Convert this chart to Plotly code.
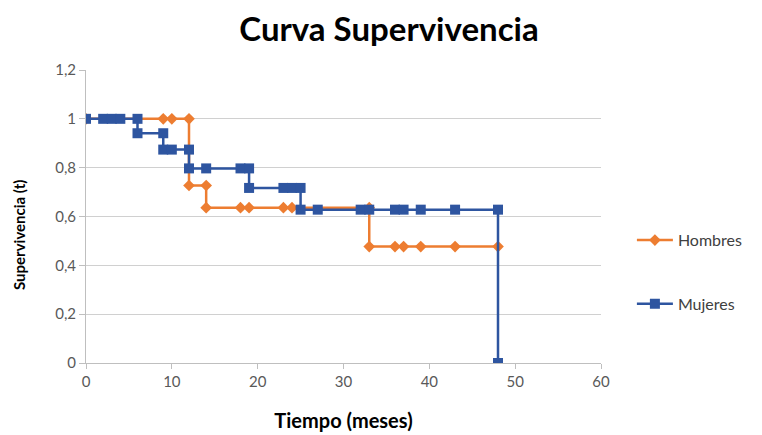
import plotly.graph_objects as go

hombres_t = [0, 9, 10, 12, 12, 14, 14, 18, 19, 23, 24, 33, 33, 36, 37, 39, 43, 48]
hombres_s = [1, 1, 1, 1, 0.727, 0.727, 0.636, 0.636, 0.636, 0.636, 0.636, 0.636,
             0.477, 0.477, 0.477, 0.477, 0.477, 0.477]

mujeres_t = [0, 2, 3, 4, 6, 6, 9, 9, 10, 12, 12, 14, 18, 19, 19, 23, 24, 25, 25, 27,
             32, 33, 36, 37, 39, 43, 48, 48]
mujeres_s = [1, 1, 1, 1, 1, 0.941, 0.941, 0.874, 0.874, 0.874, 0.797, 0.797, 0.797,
             0.797, 0.717, 0.717, 0.717, 0.717, 0.628, 0.628, 0.628, 0.628, 0.628,
             0.628, 0.628, 0.628, 0.628, 0]

x_ticks = [0, 10, 20, 30, 40, 50, 60]
y_ticks = [0, 0.2, 0.4, 0.6, 0.8, 1, 1.2]
y_labels = ["0", "0,2", "0,4", "0,6", "0,8", "1", "1,2"]

FONT = "Lato"
fig = go.Figure()
fig.add_trace(go.Scatter(
    x=hombres_t, y=hombres_s, name="Hombres", mode="lines+markers",
    line=dict(color="#ED7D31", width=2.5),
    marker=dict(symbol="diamond", size=9, color="#ED7D31"),
    legendgroup="h"))
fig.add_trace(go.Scatter(
    x=mujeres_t, y=mujeres_s, name="Mujeres", mode="lines+markers",
    line=dict(color="#2E55A0", width=2.5),
    marker=dict(symbol="square", size=10, color="#2E55A0"),
    legendgroup="m"))

fig.update_layout(
    width=762, height=435,
    margin=dict(l=78, r=169, t=62, b=80, autoexpand=False),
    paper_bgcolor="white", plot_bgcolor="white",
    font=dict(family=FONT, color="#595959", size=15),
    title=dict(text="<b>Curva Supervivencia</b>", x=0.5, xanchor="center",
               y=0.95, yanchor="middle",
               font=dict(family=FONT, size=33, color="#000000")),
    showlegend=True,
    legend=dict(x=1.06, y=0.31, xanchor="left", yanchor="middle",
                tracegroupgap=40, itemwidth=36,
                font=dict(size=16, color="#404040"),
                bgcolor="rgba(0,0,0,0)"),
    xaxis=dict(range=[0, 60], tickvals=x_ticks, showgrid=False,
               showline=True, linecolor="#BFBFBF", linewidth=1,
               ticks="outside", ticklen=5, tickcolor="#BFBFBF",
               zeroline=False,
               title=dict(text="<b>Tiempo (meses)</b>",
                          font=dict(size=20, color="#000000"), standoff=24)),
    yaxis=dict(range=[0, 1.2], tickvals=y_ticks, ticktext=y_labels,
               showgrid=True, gridcolor="#D0D0D0", gridwidth=1,
               showline=True, linecolor="#BFBFBF", linewidth=1,
               ticks="outside", ticklen=6, tickcolor="#BFBFBF",
               zeroline=False),
    annotations=[dict(text="<b>Supervivencia (t)</b>", textangle=-90,
                      xref="paper", yref="paper", x=-0.13, y=0.437,
                      xanchor="center", yanchor="middle", showarrow=False,
                      font=dict(size=15, color="#000000"))],
)
fig.write_html("out.html")
